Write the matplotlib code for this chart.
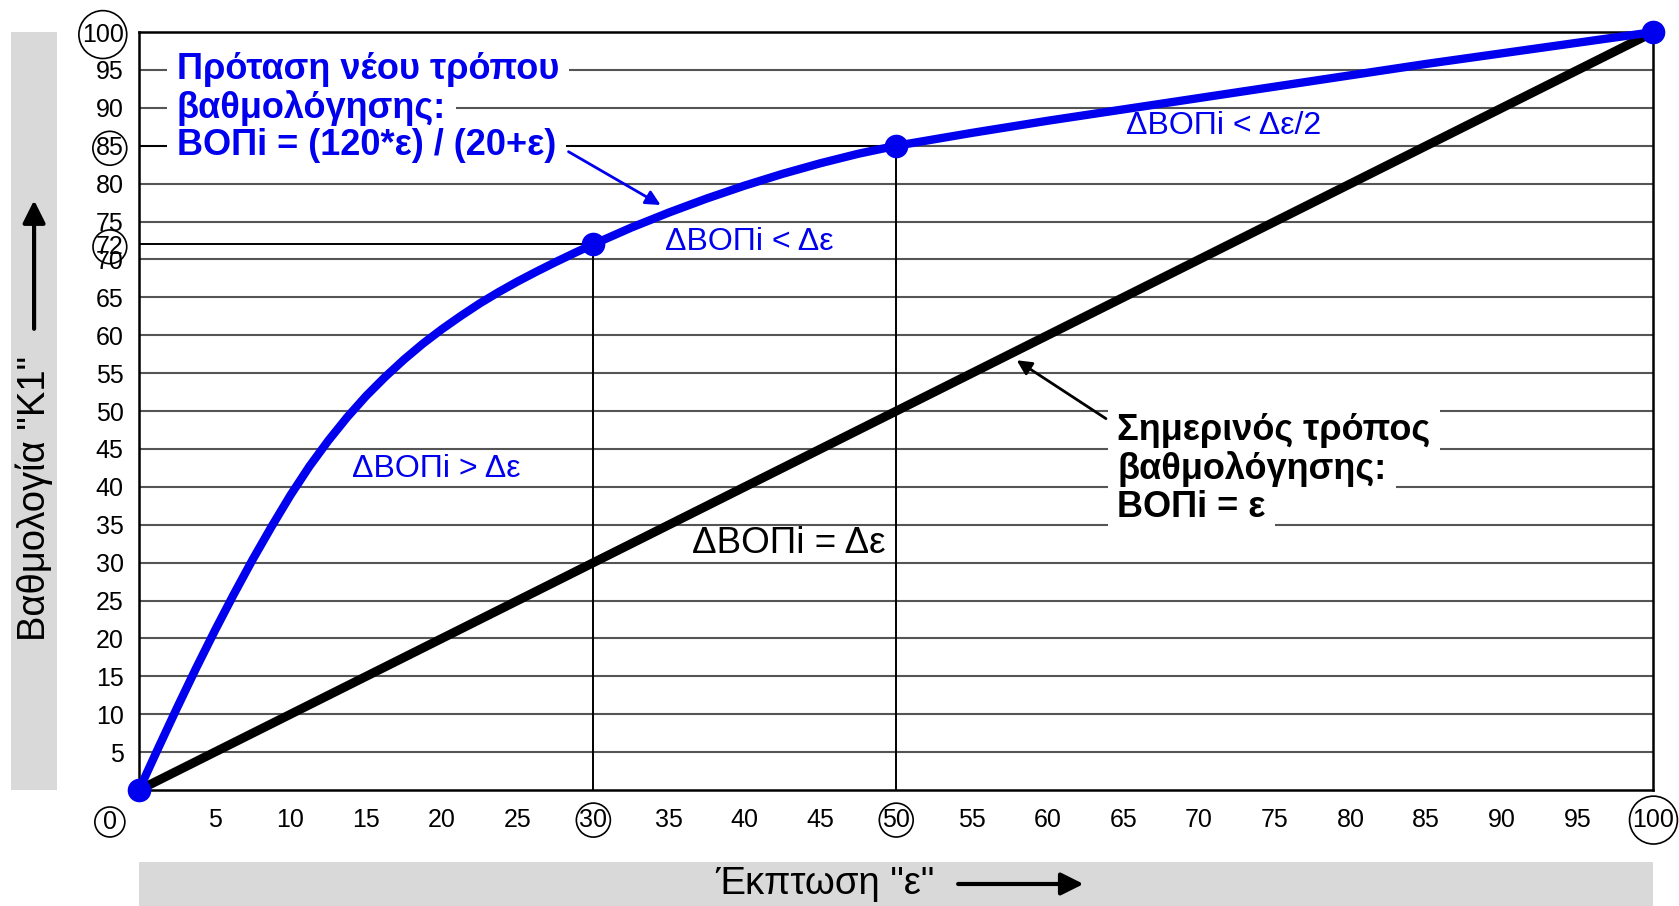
import numpy as np
import matplotlib.pyplot as plt
from matplotlib.patches import FancyArrowPatch, Rectangle

plt.rcParams['font.family'] = ['Liberation Sans', 'DejaVu Sans']

# έκπτωση ε και βαθμολογία (τιμές από το σχήμα)
eps_new = [0, 1.25, 2.5, 3.75, 5, 6.25, 7.5, 8.75, 10, 11.25, 12.5, 13.75, 15, 16.25, 17.5, 18.75,
           20, 21.25, 22.5, 23.75, 25, 26.25, 27.5, 28.75, 30, 32.5, 35, 37.5, 40,
           42.5, 45, 47.5, 50, 55, 60, 65, 70, 75, 80, 85, 90, 95, 100]
k1_new = [0, 5.45, 10.8, 16.0, 21.0, 25.8, 30.4, 34.75, 38.9, 42.7, 46.1, 49.2, 52.0, 54.5, 56.8, 58.9,
          60.8, 62.55, 64.2, 65.7, 67.1, 68.4, 69.65, 70.85, 72, 74.2, 76.2, 78.05, 79.75,
          81.3, 82.7, 83.95, 85, 86.7, 88.3, 89.8, 91.3, 92.8, 94.3, 95.8, 97.2, 98.6, 100]
eps_cur = [0, 100]
k1_cur = [0, 100]
key_eps = [0, 30, 50, 100]
key_k1 = [0, 72, 85, 100]

x_ticks = [5, 10, 15, 20, 25, 30, 35, 40, 45, 50, 55, 60, 65, 70, 75, 80, 85, 90, 95, 100]
y_ticks = [5, 10, 15, 20, 25, 30, 35, 40, 45, 50, 55, 60, 65, 70, 72, 75, 80, 85, 90, 95, 100]
x_circled = ['30', '50', '100']
y_circled = ['72', '85', '100']

BLUE = '#0000ee'

fig = plt.figure(figsize=(16.79, 9.06), dpi=100)
ax = fig.add_axes([0.0828, 0.128, 0.902, 0.8366])
ax.set_xlim(0, 100)
ax.set_ylim(0, 100)

# γκρι πλαίσια τίτλων αξόνων
fig.patches.append(Rectangle((0.0066, 0.128), 0.0274, 0.8366, transform=fig.transFigure,
                             fc='#d9d9d9', ec='none', zorder=0))
fig.patches.append(Rectangle((0.0828, 0.0), 0.902, 0.0486, transform=fig.transFigure,
                             fc='#d9d9d9', ec='none', zorder=0))

# γραμμές πλέγματος
ax.hlines(np.arange(5, 100, 5), 0, 100, color='#555555', lw=1.5, zorder=1)
# βοηθητικές γραμμές για τα σημεία 30 και 50
ax.hlines([72, 85], 0, [30, 50], color='black', lw=1.4, zorder=2)
ax.vlines([30, 50], 0, [72, 85], color='black', lw=1.4, zorder=2)

ax.plot(eps_cur, k1_cur, color='black', lw=6.5, solid_capstyle='butt', zorder=3, clip_on=False)
ax.plot(eps_new, k1_new, color=BLUE, lw=6, solid_joinstyle='round', zorder=4, clip_on=False)
ax.plot(key_eps, key_k1, 'o', color=BLUE, ms=16, zorder=5, clip_on=False)

for s in ax.spines.values():
    s.set_linewidth(1.8)

ax.set_xticks(x_ticks)
ax.set_xticklabels([str(t) for t in x_ticks])
ax.set_yticks(y_ticks)
ax.set_yticklabels([str(t) for t in y_ticks])
ax.tick_params(length=0, labelsize=18)
ax.tick_params(axis='x', pad=13)
ax.tick_params(axis='y', pad=11)
circle = dict(boxstyle='circle,pad=0.12', fc='none', ec='black', lw=1.2)
for lab in ax.get_xticklabels():
    if lab.get_text() in x_circled:
        lab.set_bbox(circle)
for lab in ax.get_yticklabels():
    if lab.get_text() in y_circled:
        lab.set_bbox(circle)
ax.annotate('0', xy=(0, 0), xycoords=('data', 'axes fraction'), xytext=(-21, -23),
            textcoords='offset points', ha='center', va='center', fontsize=18, bbox=circle)

# τίτλοι αξόνων
fig.text(0.0203, 0.450, 'Βαθμολογία "K1"', rotation=90, ha='center', va='center', fontsize=27.5)
fig.patches.append(FancyArrowPatch((0.0203, 0.634), (0.0203, 0.782), transform=fig.transFigure,
                                   arrowstyle='-|>', mutation_scale=34, lw=3, color='black'))
fig.text(0.491, 0.0243, 'Έκπτωση "ε"', ha='center', va='center', fontsize=27.5)
fig.patches.append(FancyArrowPatch((0.569, 0.0243), (0.647, 0.0243), transform=fig.transFigure,
                                   arrowstyle='-|>', mutation_scale=34, lw=3, color='black'))


def boxed_lines(lines, x, ys, color):
    # πρώτα τα λευκά φόντα, μετά τα κείμενα από πάνω
    for txt, yv in zip(lines, ys):
        ax.text(x, yv, txt, color='white', fontsize=26, fontweight='bold', ha='left', va='center',
                bbox=dict(fc='white', ec='none', pad=7), zorder=6)
    for txt, yv in zip(lines, ys):
        ax.text(x, yv, txt, color=color, fontsize=26, fontweight='bold', ha='left', va='center',
                zorder=7)


boxed_lines(['Πρόταση νέου τρόπου', 'βαθμολόγησης:', 'ΒΟΠi = (120*ε) / (20+ε)'],
            2.5, [95, 90, 85], BLUE)
ax.annotate('', xy=(34.6, 77.0), xytext=(28.2, 84.4),
            arrowprops=dict(arrowstyle='-|>', color=BLUE, lw=2, mutation_scale=22), zorder=6)

boxed_lines(['Σημερινός τρόπος', 'βαθμολόγησης:', 'ΒΟΠi = ε'],
            64.6, [47.5, 42.3, 37.3], 'black')
ax.annotate('', xy=(57.8, 56.9), xytext=(64.0, 48.8),
            arrowprops=dict(arrowstyle='-|>', color='black', lw=2, mutation_scale=22), zorder=6)

ax.text(71.6, 87.6, 'ΔΒΟΠi < Δε/2', color=BLUE, fontsize=23, ha='center', va='center', zorder=6)
ax.text(40.3, 72.3, 'ΔΒΟΠi < Δε', color=BLUE, fontsize=23, ha='center', va='center', zorder=6)
ax.text(19.6, 42.3, 'ΔΒΟΠi > Δε', color=BLUE, fontsize=23, ha='center', va='center', zorder=6)
ax.text(42.9, 32.5, 'ΔΒΟΠi = Δε', color='black', fontsize=26.5, ha='center', va='center', zorder=6)

fig.savefig('out.png', dpi=100)
